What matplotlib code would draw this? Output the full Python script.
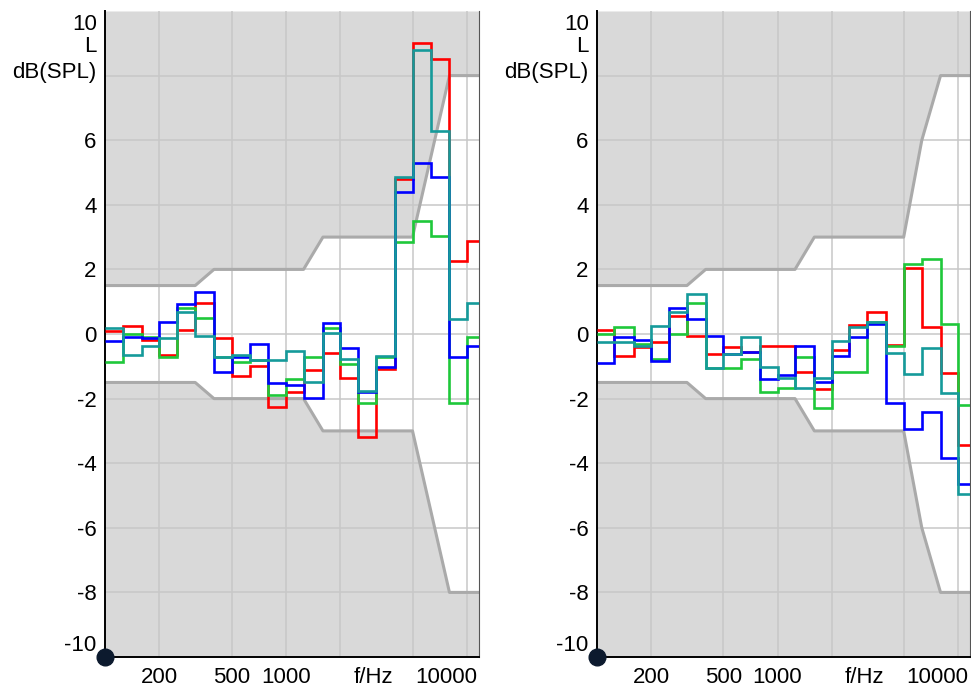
import matplotlib
matplotlib.use("Agg")
import matplotlib.pyplot as plt
from matplotlib.ticker import NullLocator

plt.rcParams['font.family'] = ['Liberation Sans', 'DejaVu Sans']

# 1/3-octave band nominal frequencies (Hz)
bands = [100, 125, 160, 200, 250, 315, 400, 500, 630, 800, 1000, 1250, 1600,
         2000, 2500, 3150, 4000, 5000, 6300, 8000, 10000]
edges = bands + [12500]

# left panel: deviation in dB per band
left_red = [0.1, 0.25, -0.2, -0.65, 0.13, 0.96, -0.13, -1.29, -1.0, -2.27, -1.8,
            -1.13, -0.6, -1.37, -3.2, -1.08, 4.8, 9.0, 8.5, 2.27, 2.89]
left_green = [-0.88, 0.0, -0.1, -0.72, 0.8, 0.49, -0.72, -0.86, -0.8, -1.89, -1.39,
              -0.72, 0.19, -0.93, -2.14, -0.7, 2.86, 3.5, 3.04, -2.14, -0.08]
left_blue = [-0.23, -0.08, -0.13, 0.38, 0.93, 1.29, -1.19, -0.72, -0.31, -1.53, -1.58,
             -1.99, 0.33, -0.44, -1.8, -1.03, 4.4, 5.3, 4.85, -0.71, -0.38]
left_teal = [0.18, -0.65, -0.36, -0.13, 0.67, -0.05, -0.72, -0.65, -0.8, -0.8, -0.52,
             -1.48, 0.02, -0.77, -1.75, -0.69, 4.85, 8.8, 6.3, 0.46, 0.96]

# right panel
right_red = [0.13, -0.67, -0.41, -0.24, 0.57, -0.07, -0.62, -0.41, -0.57, -0.38, -0.38,
             -1.17, -1.7, -0.49, 0.28, 0.69, -0.34, 2.03, 0.21, -1.21, -3.44]
right_green = [0.0, 0.21, -0.31, -0.77, 0.0, 0.96, -1.06, -1.06, -0.77, -1.81, -1.66,
               -0.72, -2.3, -1.17, -1.17, 0.38, -0.38, 2.17, 2.32, 0.31, -2.2]
right_blue = [-0.91, -0.1, -0.18, -0.83, 0.79, 0.46, -0.05, -0.62, -0.55, -1.39, -1.27,
              -0.36, -1.48, -0.69, -0.1, 0.31, -2.14, -2.94, -2.43, -3.85, -4.64]
right_teal = [-0.24, -0.24, -0.36, 0.26, 0.69, 1.24, -1.06, -0.62, -0.1, -1.03, -1.37,
              -1.68, -1.37, -0.21, 0.21, 0.38, -0.59, -1.24, -0.44, -1.83, -4.95]

# tolerance limits
tol_f_left = [100, 315, 400, 1250, 1600, 5000, 8000, 12500]
tol_up_left = [1.5, 1.5, 2, 2, 3, 3, 8, 8]
tol_f_right = [100, 315, 400, 1250, 1600, 5000, 6300, 8000, 12500]
tol_up_right = [1.5, 1.5, 2, 2, 3, 3, 6, 8, 8]

colors = ['#ff0000', '#1ec83a', '#0000ff', '#159a9a']
fs = 16

fig = plt.figure(figsize=(9.71, 6.89), dpi=100)
ax1 = fig.add_axes([105 / 971, 32 / 689, 374 / 971, 646 / 689])
ax2 = fig.add_axes([597 / 971, 32 / 689, 373 / 971, 646 / 689])

panels = [
    (ax1, tol_f_left, tol_up_left, [left_red, left_green, left_blue, left_teal]),
    (ax2, tol_f_right, tol_up_right, [right_red, right_green, right_blue, right_teal]),
]

for ax, tf, tu, series in panels:
    tl = [-v for v in tu]
    ax.fill_between(tf, tu, 10, color='#d9d9d9', lw=0)
    ax.fill_between(tf, -10, tl, color='#d9d9d9', lw=0)
    ax.plot(tf, tu, color='#aaaaaa', lw=2.2)
    ax.plot(tf, tl, color='#aaaaaa', lw=2.2)

    for vals, c in zip(series, colors):
        ax.stairs(vals, edges, baseline=None, color=c, lw=1.9, zorder=3)

    ax.set_xscale('log')
    ax.set_xlim(100, 11650)
    ax.set_ylim(-10, 10)

    ax.set_xticks([200, 500, 1000, 2000, 5000, 10000])
    ax.set_xticklabels(['200', '500', '1000', '', '', ''])
    ax.xaxis.set_minor_locator(NullLocator())
    ax.set_yticks(range(-8, 9, 2))
    ax.set_yticklabels([str(v) if v != 8 else '' for v in range(-8, 9, 2)])
    ax.tick_params(length=0, labelsize=fs, pad=6)
    ax.tick_params(axis='x', pad=7.5)
    ax.grid(True, color='#c8c8c8', lw=1.1)

    ax.annotate('f/Hz', xy=(3050, 0), xycoords=('data', 'axes fraction'),
                xytext=(0, -7.5), textcoords='offset points', ha='center', va='top',
                fontsize=fs)
    ax.annotate('10000', xy=(7650, 0), xycoords=('data', 'axes fraction'),
                xytext=(0, -7.5), textcoords='offset points', ha='center', va='top',
                fontsize=fs)

    ax.annotate('10', xy=(0, 10), xycoords=('axes fraction', 'data'),
                xytext=(-6, -2), textcoords='offset points', ha='right', va='top',
                fontsize=fs)
    ax.annotate('L', xy=(0, 8.9), xycoords=('axes fraction', 'data'),
                xytext=(-6, 0), textcoords='offset points', ha='right', va='center',
                fontsize=fs)
    ax.annotate('dB(SPL)', xy=(0, 8.1), xycoords=('axes fraction', 'data'),
                xytext=(-6, 0), textcoords='offset points', ha='right', va='center',
                fontsize=fs)
    ax.annotate('-10', xy=(0, -10), xycoords=('axes fraction', 'data'),
                xytext=(-6, 1), textcoords='offset points', ha='right', va='bottom',
                fontsize=fs)

    ax.spines['top'].set_visible(False)
    ax.spines['right'].set_color('#555555')
    ax.spines['left'].set_linewidth(1.4)
    ax.spines['bottom'].set_linewidth(1.4)

    ax.plot(100, -10, 'o', color='#0c1a2e', ms=12, clip_on=False, zorder=10)

fig.savefig('out.png', dpi=100)
